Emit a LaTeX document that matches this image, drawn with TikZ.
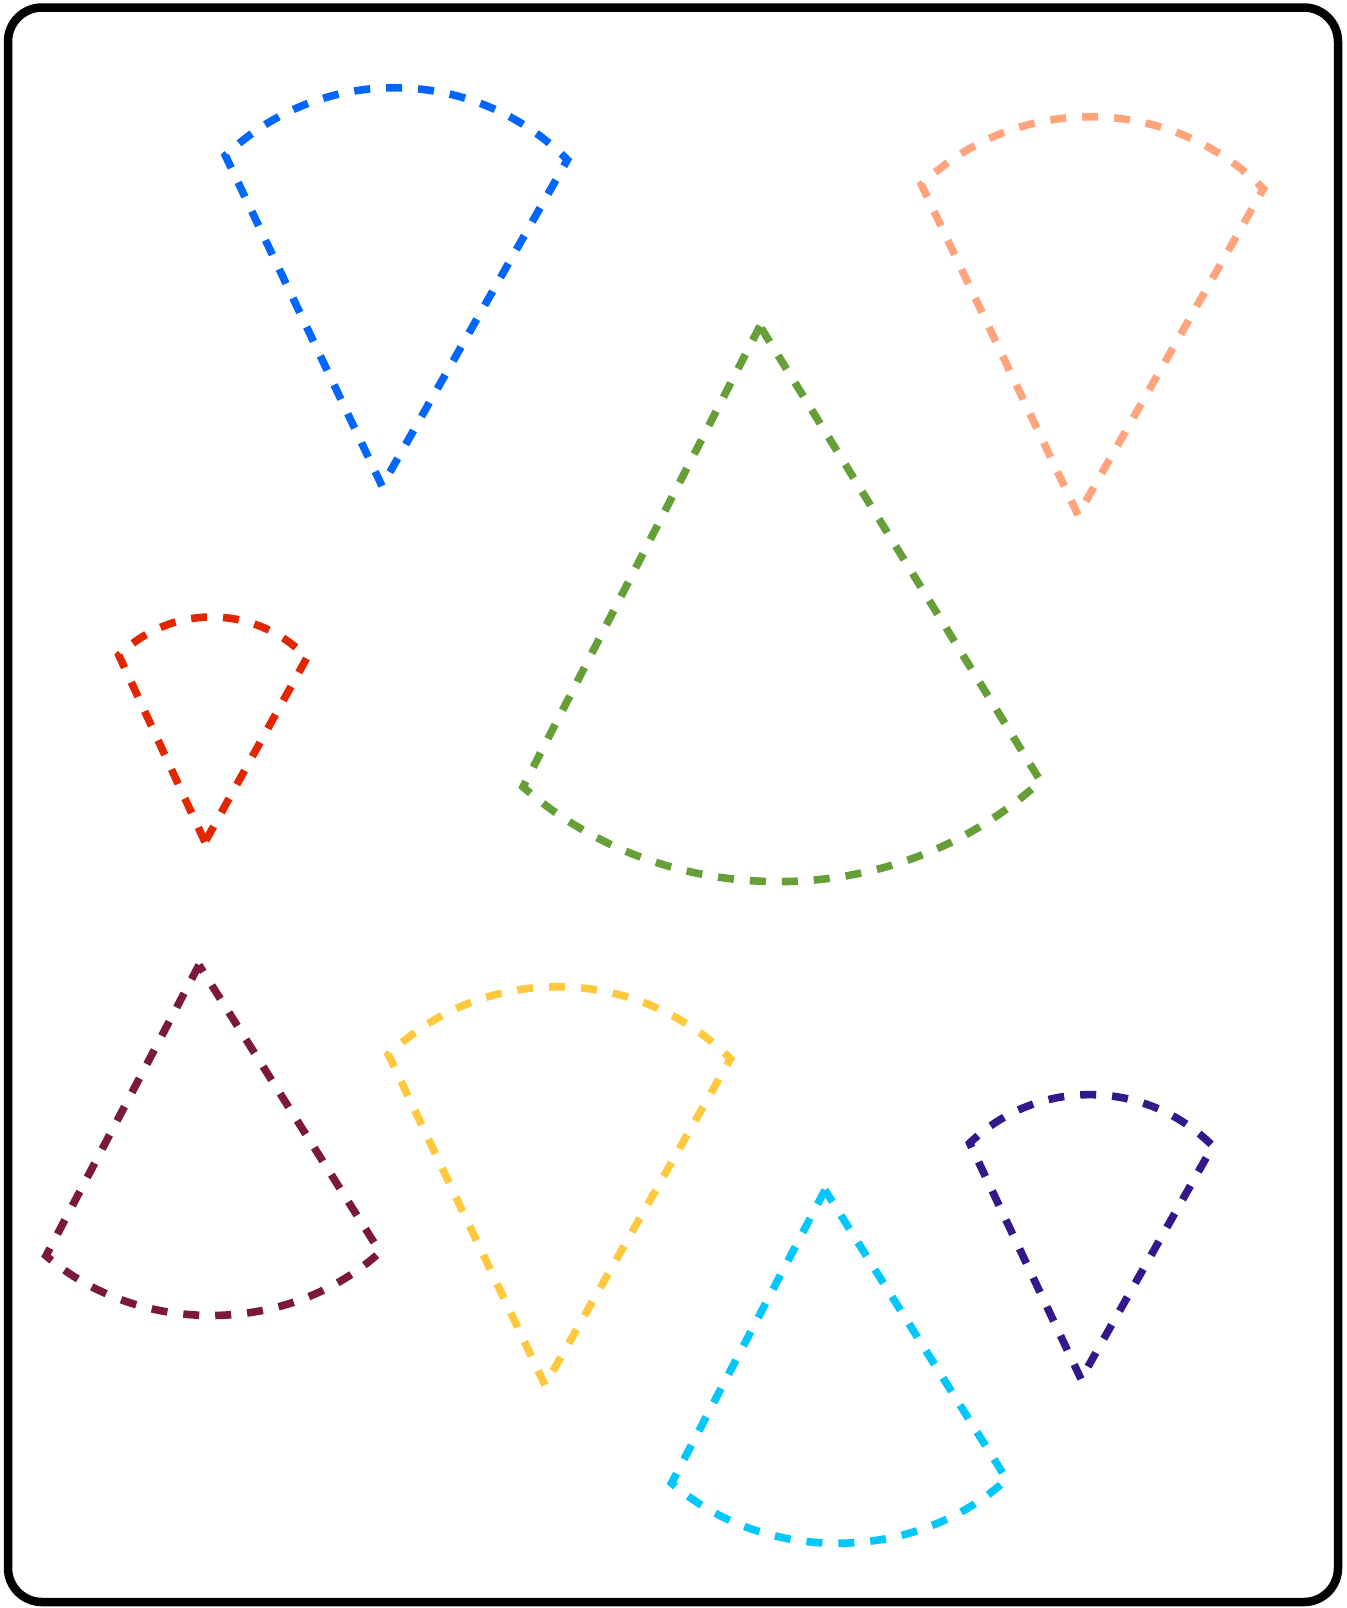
\documentclass[tikz,border=0pt]{standalone}
\definecolor{wblue}{HTML}{0066FF}
\definecolor{worange}{HTML}{FFA47C}
\definecolor{wred}{HTML}{E42600}
\definecolor{wgreen}{HTML}{669E38}
\definecolor{wmaroon}{HTML}{7A183D}
\definecolor{wyellow}{HTML}{FFC93D}
\definecolor{wcyan}{HTML}{00C8FF}
\definecolor{wpurple}{HTML}{33188C}
\newcommand\wedgeshape[5]{%
  \begin{scope}[shift={(#2,#3)}, xscale=#4, yscale=#5]
  \draw[wedge, draw=#1] (0,0) -- (-156.6,-330.4) arc[start angle=226.2, end angle=315.2, radius=244] -- cycle;
  \end{scope}}
\begin{document}
\begin{tikzpicture}[x=0.5pt,y=-0.5pt,
  wedge/.style={line width=3.8pt, dash pattern=on 8pt off 8pt},
  frame/.style={line width=4.25pt, rounded corners=17pt}]
\useasboundingbox (0,0) rectangle (1347,1608);
\draw[frame] (8,7.5) rectangle (1338,1602);
\wedgeshape{wblue}{382}{486}{1}{1}
\wedgeshape{worange}{1078}{515}{1}{1}
\wedgeshape{wred}{205}{842}{0.55}{0.565}
\wedgeshape{wgreen}{760}{326}{1.513}{-1.395}
\wedgeshape{wmaroon}{199}{965}{0.977}{-0.88}
\wedgeshape{wyellow}{545}{1385}{1}{1}
\wedgeshape{wcyan}{825}{1190}{0.98}{-0.887}
\wedgeshape{wpurple}{1081}{1379}{0.711}{0.714}
\end{tikzpicture}
\end{document}
